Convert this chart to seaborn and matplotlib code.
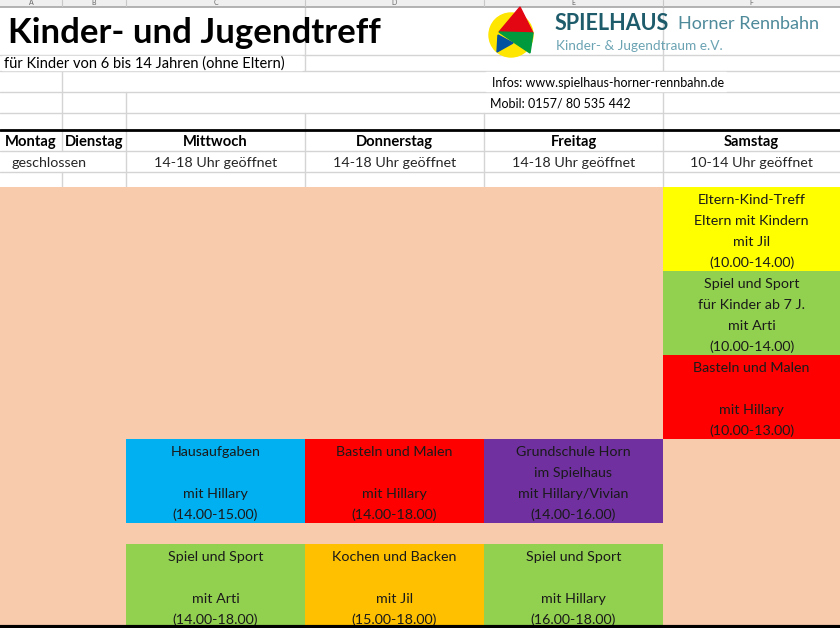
import matplotlib
matplotlib.use("Agg")
import matplotlib.pyplot as plt
from matplotlib.patches import Rectangle, Circle, Polygon
import seaborn as sns

# -----------------------------
# Data
# -----------------------------
col_letters = ["A", "B", "C", "D", "E", "F"]
days = ["Montag", "Dienstag", "Mittwoch", "Donnerstag", "Freitag", "Samstag"]
opening = ["geschlossen", "", "14-18 Uhr geöffnet", "14-18 Uhr geöffnet",
           "14-18 Uhr geöffnet", "10-14 Uhr geöffnet"]

act_day = ["Samstag", "Samstag", "Samstag",
           "Mittwoch", "Donnerstag", "Freitag",
           "Mittwoch", "Donnerstag", "Freitag"]
act_row = [0, 4, 8, 12, 12, 12, 17, 17, 17]
act_rows = [4, 4, 4, 4, 4, 4, 4, 4, 4]
act_text = [
    ["Eltern-Kind-Treff", "Eltern mit Kindern", "mit Jil", "(10.00-14.00)"],
    ["Spiel und Sport", "für Kinder ab 7 J.", "mit Arti", "(10.00-14.00)"],
    ["Basteln und Malen", "", "mit Hillary", "(10.00-13.00)"],
    ["Hausaufgaben", "", "mit Hillary", "(14.00-15.00)"],
    ["Basteln und Malen", "", "mit Hillary", "(14.00-18.00)"],
    ["Grundschule Horn", "im Spielhaus", "mit Hillary/Vivian", "(14.00-16.00)"],
    ["Spiel und Sport", "", "mit Arti", "(14.00-18.00)"],
    ["Kochen und Backen", "", "mit Jil", "(15.00-18.00)"],
    ["Spiel und Sport", "", "mit Hillary", "(16.00-18.00)"],
]
act_color = ["#FFFF00", "#92D050", "#FF0000",
             "#00B0F0", "#FF0000", "#7030A0",
             "#92D050", "#FFC000", "#92D050"]

title = "Kinder- und Jugendtreff"
subtitle = "für Kinder von 6 bis 14 Jahren (ohne Eltern)"
infos = "Infos: www.spielhaus-horner-rennbahn.de"
mobil = "Mobil: 0157/ 80 535 442"

# -----------------------------
# Layout (sheet pixels)
# -----------------------------
col_edges = [0, 62, 126, 305, 484, 663, 840]
col_center = {d: (col_edges[i] + col_edges[i + 1]) / 2 for i, d in enumerate(days)}
col_width = {d: col_edges[i + 1] - col_edges[i] for i, d in enumerate(days)}
grid_top = 187
row_h = 21
body_fs = 10.3

sns.set_theme(style="white")
plt.rcParams["font.family"] = ["Lato", "DejaVu Sans"]

fig = plt.figure(figsize=(8.4, 6.28), dpi=100)
ax = fig.add_axes([0, 0, 1, 1])
ax.set_xlim(0, 840)
ax.set_ylim(628, 0)
ax.axis("off")

grid_c = "#d4d4d4"

# column header strip
ax.add_patch(Rectangle((0, 0), 840, 6, color="#efefef", zorder=1))
ax.plot([0, 840], [6.5, 6.5], color="#a6a6a6", lw=1.2, zorder=2)
for i, letter in enumerate(col_letters):
    x = (col_edges[i] + col_edges[i + 1]) / 2
    ax.text(x, 6, letter, ha="center", va="bottom", fontsize=5,
            color="#666666", zorder=3)
    if i > 0:
        ax.plot([col_edges[i]] * 2, [0, 6], color="#c8c8c8", lw=0.8, zorder=2)

# light gridlines in the white area
for y in [55, 71, 92, 113, 151, 172]:
    ax.plot([0, 840], [y, y], color=grid_c, lw=1, zorder=1)
ax.plot([62, 62], [71, 151], color=grid_c, lw=1, zorder=1)
ax.plot([62, 62], [172, 187], color=grid_c, lw=1, zorder=1)
ax.plot([126, 126], [92, 187], color=grid_c, lw=1, zorder=1)
ax.plot([305, 305], [7, 71], color=grid_c, lw=1, zorder=1)
ax.plot([305, 305], [113, 187], color=grid_c, lw=1, zorder=1)
ax.plot([484, 484], [113, 187], color=grid_c, lw=1, zorder=1)
ax.plot([663, 663], [7, 71], color=grid_c, lw=1, zorder=1)
ax.plot([663, 663], [92, 187], color=grid_c, lw=1, zorder=1)
# white behind overflow texts
ax.add_patch(Rectangle((2, 56), 300, 14, color="white", zorder=1.5))
ax.add_patch(Rectangle((486, 72), 240, 19, color="white", zorder=1.5))

# thick line above the day header
ax.plot([0, 840], [130, 130], color="black", lw=2, zorder=3)

# title block
ax.text(8, 33, title, ha="left", va="center", fontsize=25,
        fontweight="bold", color="black", zorder=4)
ax.text(4, 64, subtitle, ha="left", va="center", fontsize=10.5,
        color="black", zorder=4)
ax.text(492, 83, infos, ha="left", va="center", fontsize=9,
        color="black", zorder=4)
ax.text(490, 104, mobil, ha="left", va="center", fontsize=9,
        color="black", zorder=4)

# logo
ax.add_patch(Circle((511, 35), 22, color="#FFE600", zorder=4))
ax.add_patch(Polygon([(520, 7), (499, 32), (533, 33)], color="#E30613", zorder=5))
ax.add_patch(Polygon([(499, 32), (533, 33), (530, 53), (515, 43)],
                     color="#009A3E", zorder=5))
ax.add_patch(Polygon([(498, 35), (513, 43), (497, 52)], color="#0051A0", zorder=5))
ax.text(555, 24, "SPIELHAUS", ha="left", va="center", fontsize=15.5,
        fontweight="bold", color="#1F5C6B", zorder=4)
ax.text(678, 24, "Horner Rennbahn", ha="left", va="center", fontsize=13,
        color="#4E8A9A", zorder=4)
ax.text(556, 46, "Kinder- & Jugendtraum e.V.", ha="left", va="center",
        fontsize=9.8, color="#6BA3B3", zorder=4)

# day header and opening hours
for d in days:
    ax.text(col_center[d], 142, d, ha="center", va="center", fontsize=10.6,
            fontweight="bold", color="black", zorder=4)
for d, o in zip(days, opening):
    if not o:
        continue
    if o == "geschlossen":
        ax.text(11, 163, o, ha="left", va="center", fontsize=body_fs, zorder=4)
    else:
        ax.text(col_center[d], 163, o, ha="center", va="center",
                fontsize=body_fs, zorder=4)

# salmon background
ax.bar(420, 628 - grid_top, bottom=grid_top, width=840, color="#F8CBAD",
       edgecolor="none", zorder=1)

# activity blocks
xs = [col_center[d] for d in act_day]
ws = [col_width[d] for d in act_day]
bottoms = [grid_top + r * row_h for r in act_row]
heights = [n * row_h for n in act_rows]
ax.bar(xs, heights, bottom=bottoms, width=ws, color=act_color,
       edgecolor="none", zorder=2)

for x, b, lines in zip(xs, bottoms, act_text):
    for k, line in enumerate(lines):
        if line:
            ax.text(x, b + k * row_h + row_h / 2 + 2.5, line, ha="center",
                    va="center", fontsize=body_fs, color="#1a1a1a", zorder=4)

# bottom edge
ax.plot([0, 840], [627, 627], color="black", lw=3, zorder=5)

fig.savefig("out.png", dpi=100)
